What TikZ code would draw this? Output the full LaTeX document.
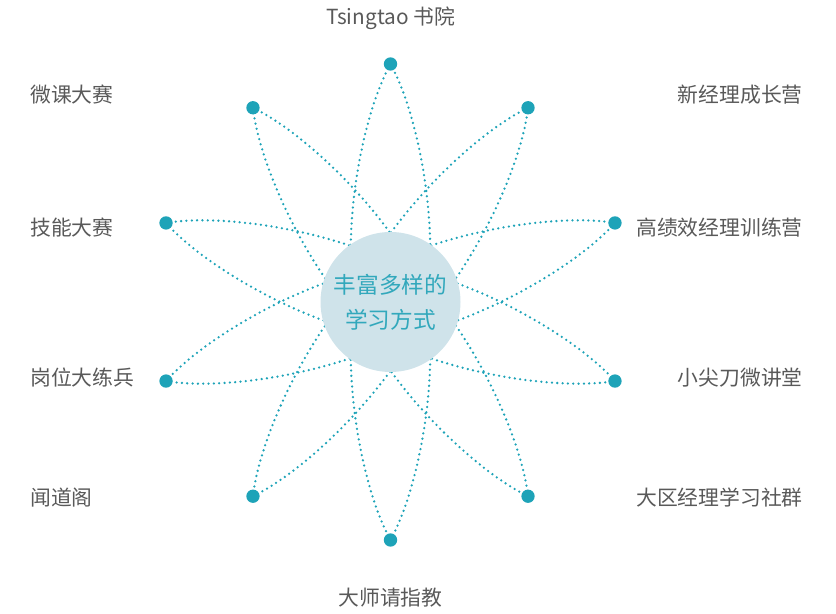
\documentclass[tikz,border=0pt]{standalone}
\usepackage{fontspec}
\setmainfont{Noto Sans CJK SC}
\usepackage{tikz}
\usetikzlibrary{calc,positioning}
\definecolor{petalblue}{RGB}{30,163,184}
\definecolor{hubfill}{RGB}{207,227,234}
\definecolor{hubtext}{RGB}{50,168,188}
\definecolor{itemgray}{RGB}{89,89,89}
\tikzstyle{petal}  =[petalblue, line width=1.9pt, line cap=round,
                    dash pattern=on 0pt off 4pt]
\tikzstyle{tip}    =[circle, fill=petalblue, minimum size=10pt,
                    inner sep=0pt, outer sep=0pt]
\tikzstyle{hub}    =[circle, fill=hubfill, minimum size=105pt,
                    inner sep=0pt, align=center, text=hubtext,
                    font=\fontsize{17}{26}\selectfont]
\tikzstyle{itemtext}=[text=itemgray, inner sep=0pt,
                    font=\fontsize{15.6}{18}\selectfont]

\begin{document}
\begin{tikzpicture}[x=0.75pt, y=0.75pt]
    \useasboundingbox (0,0) rectangle (836,614);
    % petals
    \foreach \a in {90,54.7,19.4,-19.4,-54.7,-90,-125.3,-160.6,160.6,125.3}
        \draw[petal, shift={(390.5,312)}, rotate=\a]
            (238,0) .. controls (160,43) and (-40,62) .. (-50,0)
                    .. controls (-40,-62) and (160,-43) .. (238,0);
    \node[hub] (core) at (390.5,312) {丰富多样的\\学习方式};
    % tips
    \foreach \a/\n in {90/t0,54.7/t1,19.4/t2,-19.4/t3,-54.7/t4,-90/t5,
                       -125.3/t6,-160.6/t7,160.6/t8,125.3/t9}
        \node[tip] (\n) at ($(core.center)+(\a:238)$) {};
    % texts
    \node[itemtext] (top)   at (390.5,596) {Tsingtao 书院};
    \node[itemtext] (bot)   at (390.5,16)  {大师请指教};
    \node[itemtext, anchor=west] (l1) at (30,519) {微课大赛};
    \node[itemtext, anchor=west] (l2) at (30,386) {技能大赛};
    \node[itemtext, anchor=west] (l3) at (30,236) {岗位大练兵};
    \node[itemtext, anchor=west] (l4) at (30,116) {闻道阁};
    \node[itemtext, anchor=east] (r1) at (803,519) {新经理成长营};
    \node[itemtext, anchor=east] (r2) at (803,386) {高绩效经理训练营};
    \node[itemtext, anchor=east] (r3) at (803,236) {小尖刀微讲堂};
    \node[itemtext, anchor=east] (r4) at (803,116) {大区经理学习社群};
\end{tikzpicture}
\end{document}
